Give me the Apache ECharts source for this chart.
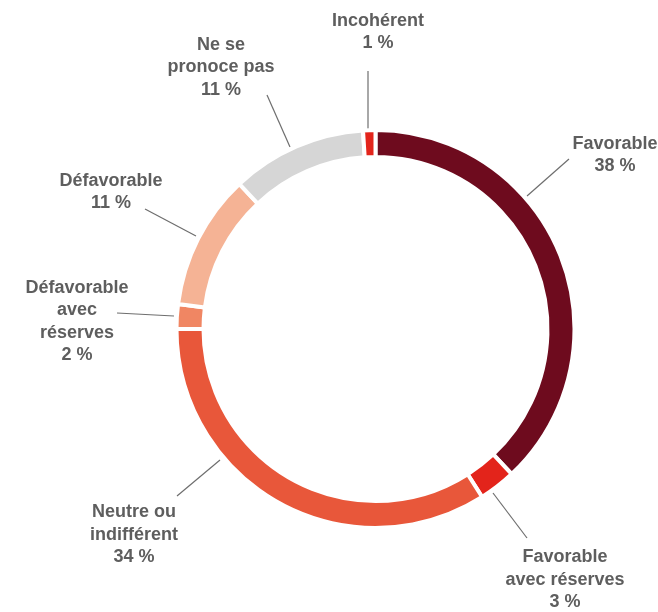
<!DOCTYPE html>
<html>
<head>
<meta charset="utf-8">
<script src="https://cdn.jsdelivr.net/npm/echarts@6/dist/echarts.min.js"></script>
<style>
  html, body { margin: 0; padding: 0; background: #ffffff; }
  #chart { width: 658px; height: 612px; }
</style>
</head>
<body>
<div id="chart"></div>
<script>
// Opinion breakdown, clockwise from the top
const categories = [
  'Favorable',
  'Favorable\navec réserves',
  'Neutre ou\nindifférent',
  'Défavorable\navec\nréserves',
  'Défavorable',
  'Ne se\npronoce pas',
  'Incohérent'
];
const values = [38, 3, 34, 2, 11, 11, 1];
const colors = ['#6e0b1e', '#e3241b', '#e8573a', '#f08663', '#f5b395', '#d6d6d6', '#e3241b'];

// Label block centres and leader-line ends (outer end, ring end), in px
const labelCenters = [
  [615, 155], [565, 580], [134, 535], [77, 321.5], [111, 192], [221, 67.5], [378, 32]
];
const leaderLines = [
  [[569, 159], [527, 196]],
  [[527, 538], [493, 493]],
  [[177, 496], [220, 460]],
  [[117, 313], [174, 316]],
  [[145, 209], [196, 236]],
  [[267, 95], [290, 147]],
  [[368, 71], [368, 131]]
];

const chart = echarts.init(document.getElementById('chart'), null, { renderer: 'canvas' });

chart.setOption({
  animation: false,
  backgroundColor: '#ffffff',
  series: [{
    type: 'pie',
    center: [375.5, 329],
    radius: [172, 199],
    startAngle: 90,
    clockwise: true,
    avoidLabelOverlap: false,
    data: categories.map((name, i) => ({
      name: name,
      value: values[i],
      itemStyle: { color: colors[i] }
    })),
    itemStyle: { borderColor: '#ffffff', borderWidth: 4 },
    label: {
      show: true,
      position: 'outside',
      formatter: p => p.name + '\n' + p.value + ' %',
      fontFamily: '"Liberation Sans", Arial, sans-serif',
      fontWeight: 'bold',
      fontSize: 18,
      lineHeight: 22.5,
      color: '#5e5e5e',
      align: 'center'
    },
    labelLine: {
      show: true,
      lineStyle: { color: '#6e6e6e', width: 1.2 }
    },
    labelLayout: params => {
      const i = params.dataIndex;
      const seg = leaderLines[i];
      return {
        x: labelCenters[i][0],
        y: labelCenters[i][1],
        align: 'center',
        verticalAlign: 'middle',
        labelLinePoints: [seg[1], seg[1], seg[0]]
      };
    }
  }]
});
</script>
</body>
</html>
